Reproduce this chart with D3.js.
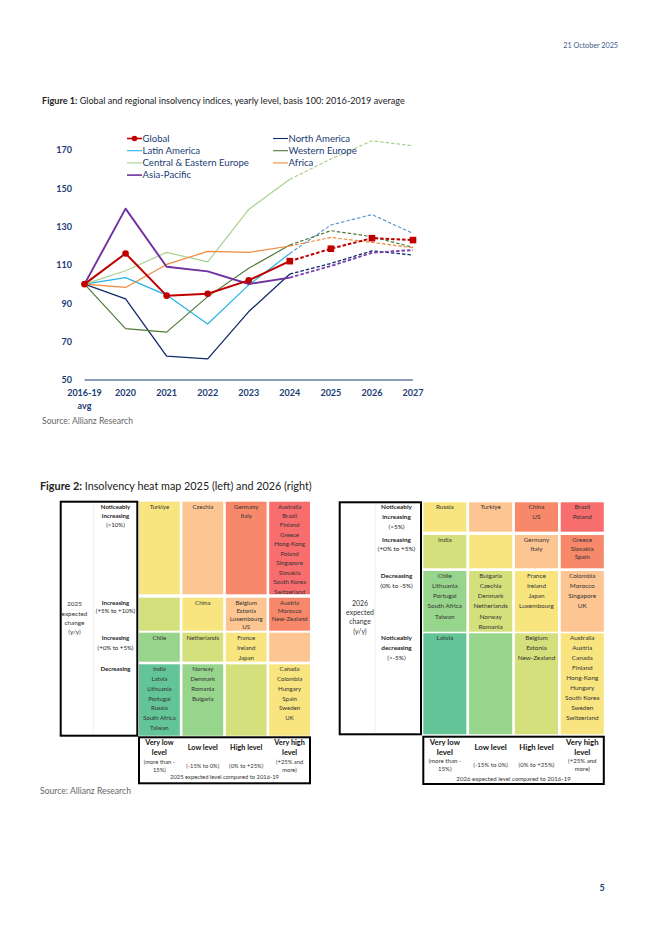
<!DOCTYPE html>
<html>
<head>
<meta charset="utf-8">
<script src="https://cdn.jsdelivr.net/npm/d3@7"></script>
<style>
  html, body { margin: 0; padding: 0; background: #fff; }
  svg { display: block; font-family: Lato, "Open Sans", sans-serif; }
</style>
</head>
<body>
<div id="page"></div>
<script>
// ---- Figure 1 data ----
const years = ["2016-19", "2020", "2021", "2022", "2023", "2024", "2025", "2026", "2027"];
const yTicks = [50, 70, 90, 110, 130, 150, 170];
const forecastFrom = 5; // index of 2024, dashed from here on

const global        = [100, 116, 94, 95, 102, 112, 118.5, 124, 123];
const northAmerica  = [100, 92.3, 62.5, 61, 85.7, 105.3, 110.8, 117.4, 115.2];
const latinAmerica  = [100, 103.4, 94.3, 79.2, 99.6, 116, 130.9, 136.3, 126.5];
const westernEurope = [100, 76.8, 75, 93.5, 108.3, 120.4, 127.9, 124.8, 119.2];
const ceEurope      = [100, 107, 116.6, 111.6, 139, 154.7, 165.3, 174.8, 172.2];
const africa        = [100, 98.3, 110.3, 117.1, 116.6, 119.9, 124.4, 121.8, 119];
const asiaPacific   = [100, 139.4, 109.1, 106.7, 100.1, 103.4, 109.5, 116.4, 117.8];

const series = [
  { name: "North America", values: northAmerica, color: "#112b6b", dash: "#112b6b", w: 1.3 },
  { name: "Latin America", values: latinAmerica, color: "#25b3e3", dash: "#5f96d6", w: 1.2 },
  { name: "Western Europe", values: westernEurope, color: "#4f7a37", dash: "#4f7a37", w: 1.2 },
  { name: "Central & Eastern Europe", values: ceEurope, color: "#a9d18e", dash: "#a9d18e", w: 1.2 },
  { name: "Africa", values: africa, color: "#f08a3e", dash: "#f08a3e", w: 1.2 },
  { name: "Asia-Pacific", values: asiaPacific, color: "#7030a0", dash: "#7a45b0", w: 1.9 },
  { name: "Global", values: global, color: "#c00000", dash: "#c00000", w: 2 }
];
const legendOrder = ["Global", "North America", "Latin America", "Western Europe",
                     "Central & Eastern Europe", "Africa", "Asia-Pacific"];

// ---- Figure 2 data ----
const palette = ["#62c497", "#96d58b", "#d4e07b", "#f8e57f", "#fcc592", "#f7896a", "#f86d6d"];

const levelNames = [["Very low", "level"], ["Low level"], ["High level"], ["Very high", "level"]];
const levelRanges = [["(more than -", "15%)"], ["(-15% to 0%)"], ["(0% to +25%)"], ["(+25% and", "more)"]];

const rowNames2025 = [["Noticeably", "increasing"], ["Increasing"], ["Increasing"], ["Decreasing"]];
const rowRanges2025 = ["(>10%)", "(+5% to +10%)", "(+0% to +5%)", ""];
const cells2025 = [
  [["Turkiye"], ["Czechia"], ["Germany", "Italy"],
   ["Australia", "Brazil", "Finland", "Greece", "Hong-Kong", "Poland", "Singapore", "Slovakia", "South Korea", "Switzerland"]],
  [[], ["China"], ["Belgium", "Estonia", "Luxembourg", "US"], ["Austria", "Morocco", "New-Zealand"]],
  [["Chile"], ["Netherlands"], ["France", "Ireland", "Japan"], []],
  [["India", "Latvia", "Lithuania", "Portugal", "Russia", "South Africa", "Taiwan"],
   ["Norway", "Denmark", "Romania", "Bulgaria"], [],
   ["Canada", "Colombia", "Hungary", "Spain", "Sweden", "UK"]]
];

const rowNames2026 = [["Noticeably", "increasing"], ["Increasing"], ["Decreasing"], ["Noticeably", "decreasing"]];
const rowRanges2026 = ["(>5%)", "(+0% to +5%)", "(0% to -5%)", "(>-5%)"];
const cells2026 = [
  [["Russia"], ["Turkiye"], ["China", "US"], ["Brazil", "Poland"]],
  [["India"], [], ["Germany", "Italy"], ["Greece", "Slovakia", "Spain"]],
  [["Chile", "Lithuania", "Portugal", "South Africa", "Taiwan"],
   ["Bulgaria", "Czechia", "Denmark", "Netherlands", "Norway", "Romania"],
   ["France", "Ireland", "Japan", "Luxembourg"],
   ["Colombia", "Morocco", "Singapore", "UK"]],
  [["Latvia"], [], ["Belgium", "Estonia", "New-Zealand"],
   ["Australia", "Austria", "Canada", "Finland", "Hong-Kong", "Hungary", "South Korea", "Sweden", "Switzerland"]]
];

// ---- page ----
const W = 662, H = 936;
const navy = "#1b3c74";
const svg = d3.select("#page").append("svg").attr("width", W).attr("height", H);

svg.append("text").attr("x", 618).attr("y", 47.5).attr("text-anchor", "end")
  .attr("font-size", 7.2).attr("fill", "#3b5b8e").text("21 October 2025");

const t1 = svg.append("text").attr("x", 42).attr("y", 103.5).attr("font-size", 9.1).attr("fill", "#222");
t1.append("tspan").attr("font-weight", 700).text("Figure 1:");
t1.append("tspan").text(" Global and regional insolvency indices, yearly level, basis 100: 2016-2019 average");

// ---- Figure 1: lines ----
const x = d3.scalePoint().domain(years).range([84.5, 413]);
const y = d3.scaleLinear().domain([50, 170]).range([380, 150]);

const chart = svg.append("g");

chart.append("g").selectAll("text").data(yTicks).join("text")
  .attr("x", 72).attr("y", d => y(d) + 3.2).attr("text-anchor", "end")
  .attr("font-size", 9).attr("font-weight", 700).attr("fill", navy).text(d => d);

chart.append("line").attr("x1", x(years[0])).attr("x2", x(years[years.length - 1]))
  .attr("y1", y(50)).attr("y2", y(50)).attr("stroke", navy).attr("stroke-width", 1.2);

chart.append("g").selectAll("text").data(years).join("text")
  .attr("x", d => x(d)).attr("y", 395.5).attr("text-anchor", "middle")
  .attr("font-size", 9).attr("font-weight", 700).attr("fill", navy).text(d => d);
chart.append("text").attr("x", x(years[0])).attr("y", 408.5).attr("text-anchor", "middle")
  .attr("font-size", 9).attr("font-weight", 700).attr("fill", navy).text("avg");

const line = d3.line().x(d => x(d.year)).y(d => y(d.v));
series.forEach(s => {
  const pts = s.values.map((v, i) => ({ year: years[i], v, i }));
  chart.append("path").datum(pts.slice(0, forecastFrom + 1)).attr("d", line)
    .attr("fill", "none").attr("stroke", s.color).attr("stroke-width", s.w)
    .attr("stroke-linejoin", "round");
  chart.append("path").datum(pts.slice(forecastFrom)).attr("d", line)
    .attr("fill", "none").attr("stroke", s.dash).attr("stroke-width", s.w)
    .attr("stroke-dasharray", "3.5,2");
  if (s.name === "Global") {
    chart.append("g").selectAll("circle").data(pts.slice(0, forecastFrom)).join("circle")
      .attr("cx", d => x(d.year)).attr("cy", d => y(d.v)).attr("r", 3.3).attr("fill", s.color);
    chart.append("g").selectAll("rect").data(pts.slice(forecastFrom)).join("rect")
      .attr("x", d => x(d.year) - 3.3).attr("y", d => y(d.v) - 3.3)
      .attr("width", 6.6).attr("height", 6.6).attr("fill", s.color);
  }
});

// legend: Global alone on first row left, then pairs
const legend = chart.append("g");
legendOrder.forEach((name, i) => {
  const s = series.find(d => d.name === name);
  const col = i === 0 ? 0 : (i % 2 === 1 ? 1 : 0);
  const r = i === 0 ? 0 : (col === 1 ? (i - 1) / 2 : i / 2);
  const lx = col === 0 ? 127 : 273;
  const ly = 138.5 + r * 12.2;
  const g = legend.append("g");
  g.append("line").attr("x1", lx).attr("x2", lx + 15).attr("y1", ly).attr("y2", ly)
    .attr("stroke", s.color).attr("stroke-width", name === "Global" || name === "Asia-Pacific" ? 1.6 : 1.1);
  if (name === "Global") g.append("circle").attr("cx", lx + 7.5).attr("cy", ly).attr("r", 2.8).attr("fill", s.color);
  g.append("text").attr("x", lx + 15.5).attr("y", ly + 3.3).attr("font-size", 9.6)
    .attr("fill", navy).text(name);
});

svg.append("text").attr("x", 42).attr("y", 423.5).attr("font-size", 8.6).attr("fill", "#666")
  .text("Source: Allianz Research");

// ---- Figure 2 ----
const t2 = svg.append("text").attr("x", 40).attr("y", 489.5).attr("font-size", 10.8).attr("fill", "#222");
t2.append("tspan").attr("font-weight", 700).text("Figure 2:");
t2.append("tspan").text(" Insolvency heat map 2025 (left) and 2026 (right)");

function heatMap(cfg) {
  const g = svg.append("g");
  const xb = d3.scaleBand().domain(d3.range(4)).range(cfg.cols).paddingInner(0.06);
  const color = d3.scaleOrdinal().domain(d3.range(7)).range(palette);

  // cells
  cfg.cells.forEach((row, ri) => {
    const rr = cfg.rows[ri];
    row.forEach((names, ci) => {
      g.append("rect").attr("x", xb(ci)).attr("y", rr[0]).attr("width", xb.bandwidth())
        .attr("height", rr[1] - rr[0]).attr("fill", color(ci + 3 - ri));
      g.append("g").selectAll("text").data(names).join("text")
        .attr("x", xb(ci) + xb.bandwidth() / 2).attr("y", (d, k) => rr[0] + 6.8 + k * rr[2])
        .attr("text-anchor", "middle").attr("font-size", cfg.fs).attr("fill", "#333").text(d => d);
    });
    // row label
    const lab = cfg.rowNames[ri].map(t => ({ t, b: true }));
    if (cfg.rowRanges[ri]) lab.push({ t: cfg.rowRanges[ri], b: false });
    g.append("g").selectAll("text").data(lab).join("text")
      .attr("x", cfg.rowLabelX).attr("y", (d, k) => rr[0] + 6.8 + k * Math.min(rr[2], 10))
      .attr("text-anchor", "middle").attr("font-size", cfg.fs)
      .attr("font-weight", d => d.b ? 700 : 400).attr("fill", "#222").text(d => d.t);
  });

  // label box
  const top = cfg.rows[0][0], bottom = cfg.rows[3][1];
  g.append("line").attr("x1", cfg.inner).attr("x2", cfg.inner).attr("y1", top).attr("y2", bottom)
    .attr("stroke", "#e4e4e4").attr("stroke-width", 0.6);
  g.append("rect").attr("x", cfg.box[0]).attr("y", top).attr("width", cfg.box[1] - cfg.box[0])
    .attr("height", bottom - top).attr("fill", "none").attr("stroke", "#000").attr("stroke-width", 2);
  g.append("g").selectAll("text").data(cfg.side).join("text")
    .attr("x", cfg.sideX).attr("y", (d, k) => cfg.sideY + k * 9.3)
    .attr("text-anchor", "middle").attr("font-size", cfg.sideFs).attr("fill", "#333").text(d => d);

  // level box
  const by0 = cfg.levelBox[0], by1 = cfg.levelBox[1];
  g.append("rect").attr("x", cfg.cols[0]).attr("y", by0).attr("width", cfg.cols[1] - cfg.cols[0])
    .attr("height", by1 - by0).attr("fill", "#fff").attr("stroke", "#000").attr("stroke-width", 2);
  levelNames.forEach((nm, ci) => {
    const cx = xb(ci) + xb.bandwidth() / 2;
    const single = nm.length === 1;
    g.append("g").selectAll("text").data(nm).join("text")
      .attr("x", cx).attr("y", (d, k) => (single ? by0 + 13 : by0 + 7.8) + k * 10)
      .attr("text-anchor", "middle").attr("font-size", cfg.levelFs).attr("font-weight", 700)
      .attr("fill", "#111").text(d => d);
    const rg = levelRanges[ci];
    g.append("g").selectAll("text").data(rg).join("text")
      .attr("x", cx).attr("y", (d, k) => (rg.length === 1 ? by0 + 30.5 : by0 + 26.5) + k * 7.8)
      .attr("text-anchor", "middle").attr("font-size", cfg.fs - 0.3).attr("fill", "#333").text(d => d);
  });
  g.append("text").attr("x", (cfg.cols[0] + cfg.cols[1]) / 2).attr("y", cfg.captionY)
    .attr("text-anchor", "middle").attr("font-size", cfg.fs - 0.3).attr("fill", "#333").text(cfg.caption);
}

heatMap({
  cols: [139, 310], box: [60.7, 137.3], inner: 93.3,
  rows: [[501.7, 594.3, 9.45], [597.7, 630.7, 8.2], [632.7, 661.7, 10], [664.3, 735.7, 9.8]],
  cells: cells2025, rowNames: rowNames2025, rowRanges: rowRanges2025, rowLabelX: 115.5,
  side: ["2025", "expected", "change", "(y/y)"], sideX: 74.5, sideY: 606.2, sideFs: 6.4,
  levelBox: [737.3, 783.3], captionY: 779.4, caption: "2025 expected level compared to 2016-19",
  fs: 6.1, levelFs: 7.3
});

heatMap({
  cols: [423.3, 603.8], box: [339.7, 421], inner: 375,
  rows: [[502.3, 531.7, 10], [535, 568.3, 8.7], [571, 631.7, 10.2], [633.3, 734.3, 10]],
  cells: cells2026, rowNames: rowNames2026, rowRanges: rowRanges2026, rowLabelX: 396.5,
  side: ["2026", "expected", "change", "(y/y)"], sideX: 360, sideY: 605.6, sideFs: 6.9,
  levelBox: [736.7, 784], captionY: 780.8, caption: "2026 expected level compared to 2016-19",
  fs: 6.4, levelFs: 7.8
});

svg.append("text").attr("x", 40).attr("y", 794).attr("font-size", 8.6).attr("fill", "#666")
  .text("Source: Allianz Research");

svg.append("text").attr("x", 602).attr("y", 890.5).attr("text-anchor", "middle")
  .attr("font-size", 9).attr("font-weight", 700).attr("fill", navy).text("5");
</script>
</body>
</html>
